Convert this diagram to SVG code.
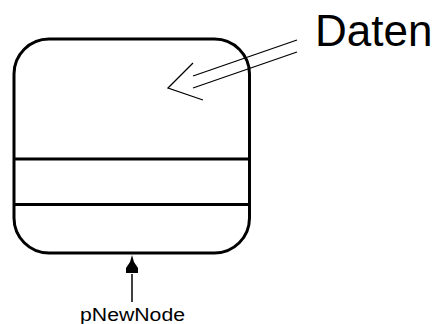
<svg xmlns="http://www.w3.org/2000/svg" width="439" height="324" viewBox="0 0 439 324">
  <style>
    .box { fill: #ffffff; stroke: #000000; stroke-width: 3; }
    .div { stroke: #000000; stroke-width: 3; }
    .thin { fill: none; stroke: #000000; stroke-width: 1.3; }
    .lbl { font-family: "Liberation Sans", Arial, sans-serif; fill: #000000; }
  </style>

  <!-- record node with three compartments -->
  <g id="node">
    <rect class="box" x="14" y="39" width="235.5" height="214" rx="35" ry="35"/>
    <line class="div" x1="14" y1="159" x2="249.5" y2="159"/>
    <line class="div" x1="14" y1="204.5" x2="249.5" y2="204.5"/>
  </g>

  <g id="daten">
    <text class="lbl" x="315" y="46" font-size="44">Daten</text>
  </g>

  <g id="pnewnode">
    <text class="lbl" x="80" y="321" font-size="18" textLength="105" lengthAdjust="spacingAndGlyphs">pNewNode</text>
  </g>

  <g id="connectors">
    <!-- hollow double-line arrow pointing at the data compartment -->
    <line class="thin" x1="297" y1="40" x2="193" y2="76"/>
    <line class="thin" x1="297" y1="52" x2="193" y2="88"/>
    <polyline class="thin" points="193,63 168,88 203,100"/>
    <!-- pointer arrow from label up to the node -->
    <line x1="132" y1="302" x2="132" y2="274" stroke="#000000" stroke-width="1.5"/>
    <path d="M132,255 L134,262 L138,268 L138,273 L126,273 L126,268 L130,262 Z" fill="#000000"/>
  </g>
</svg>
